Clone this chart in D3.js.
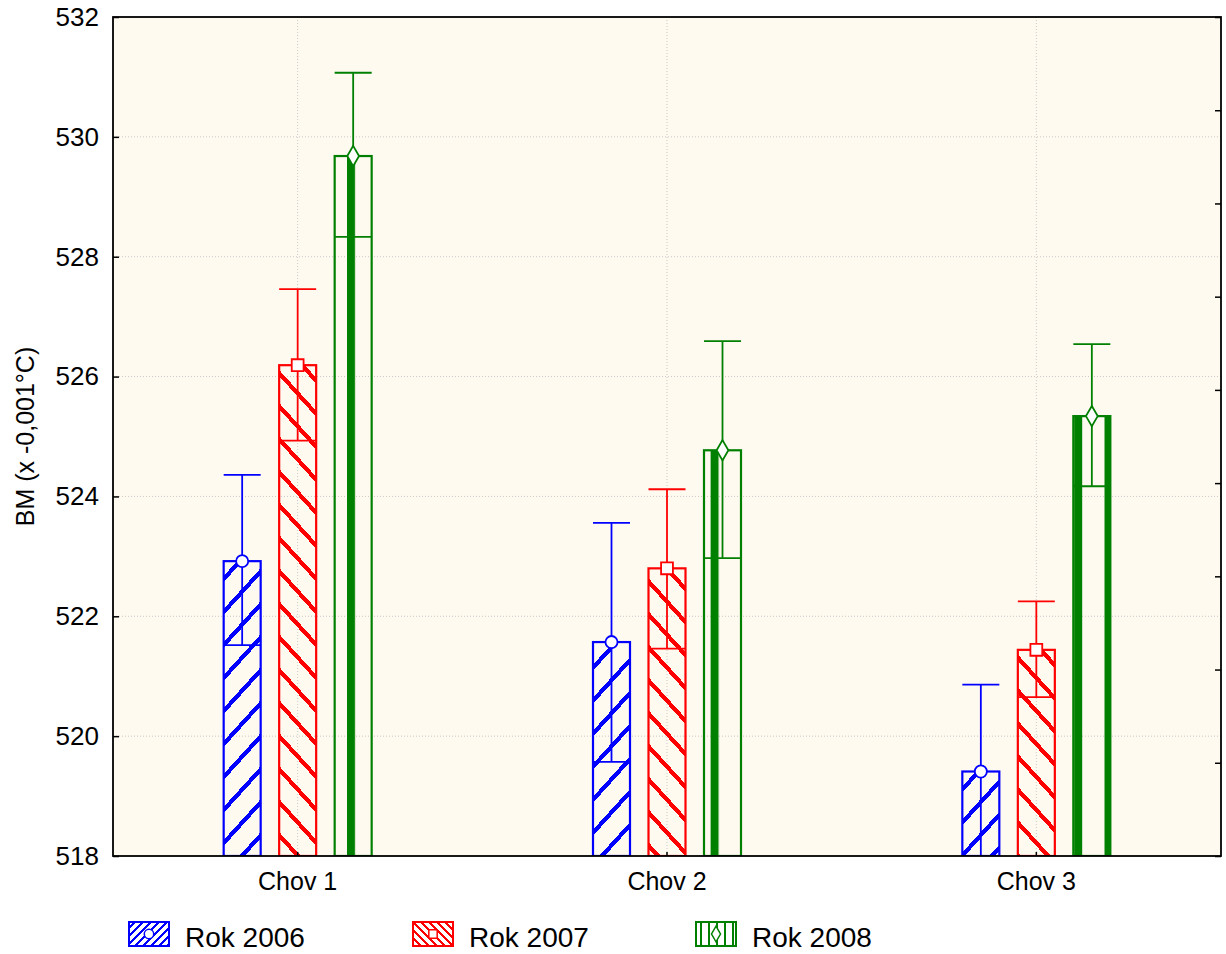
<html>
<head>
<meta charset="utf-8">
<script src="https://d3js.org/d3.v7.min.js"></script>
<style>
  body { margin: 0; background: #fff; }
  text { font-family: "Liberation Sans", Arial, sans-serif; fill: #000; }
</style>
</head>
<body>
<div id="chart"></div>
<script>
// categories and series
var categories = ["Chov 1", "Chov 2", "Chov 3"];
var series = ["Rok 2006", "Rok 2007", "Rok 2008"];

// means and error bar ends
var mean2006 = [522.92, 521.57, 519.41];
var mean2007 = [526.19, 522.80, 521.44];
var mean2008 = [529.68, 524.77, 525.34];
var upper2006 = [524.36, 523.56, 520.86];
var lower2006 = [521.52, 519.57, 517.95];
var upper2007 = [527.46, 524.12, 522.25];
var lower2007 = [524.93, 521.46, 520.65];
var upper2008 = [531.07, 526.59, 526.54];
var lower2008 = [528.33, 522.97, 524.17];

var yTicks = [518, 520, 522, 524, 526, 528, 530, 532];

var colors = ["#0000ff", "#ff0000", "#008000"];

var W = 1226, H = 954;
var margin = { top: 17, right: 5, bottom: 98, left: 113 };
var x0 = margin.left, x1 = W - margin.right, yTop = margin.top, yBot = H - margin.bottom;

var svg = d3.select('#chart').append('svg')
  .attr('width', W)
  .attr('height', H);

var xScale = d3.scaleBand()
  .domain(categories)
  .range([x0, x1])
  .padding(0);

var inner = d3.scaleBand()
  .domain(series)
  .range([-74, 74])
  .paddingInner(1 / 3)
  .paddingOuter(0);

var yScale = d3.scaleLinear()
  .domain([518, 532])
  .range([yBot, yTop]);

// patterns
var defs = svg.append('defs');
function hatch(id, color, w, h, sw, dir) {
  var p = defs.append('pattern')
    .attr('id', id)
    .attr('patternUnits', 'userSpaceOnUse')
    .attr('width', w).attr('height', h);
  var d = dir > 0
    ? 'M' + (-w) + ',' + h + 'L' + w + ',' + (-h) + 'M0,' + (2 * h) + 'L' + (2 * w) + ',0M0,' + h + 'L' + w + ',0'
    : 'M' + (-w) + ',0L' + w + ',' + (2 * h) + 'M0,' + (-h) + 'L' + (2 * w) + ',' + h + 'M0,0L' + w + ',' + h;
  p.append('path').attr('d', d)
    .attr('stroke', color).attr('stroke-width', sw)
    .attr('shape-rendering', 'crispEdges');
}
hatch('hatch0', colors[0], 30, 33, 4.2, 1);
hatch('hatch1', colors[1], 30, 33, 4.2, -1);
hatch('hatchL0', colors[0], 8, 8, 1.6, 1);
hatch('hatchL1', colors[1], 8, 8, 1.6, -1);

var vp = defs.append('pattern')
  .attr('id', 'hatch2')
  .attr('patternUnits', 'userSpaceOnUse')
  .attr('x', 13.7)
  .attr('width', 30.3).attr('height', 10);
vp.append('rect').attr('x', 0).attr('y', 0).attr('width', 8).attr('height', 10).attr('fill', colors[2]);

var vpl = defs.append('pattern')
  .attr('id', 'hatchL2')
  .attr('patternUnits', 'userSpaceOnUse')
  .attr('x', 701)
  .attr('width', 8).attr('height', 8);
vpl.append('rect').attr('x', 0).attr('y', 0).attr('width', 2).attr('height', 8).attr('fill', colors[2]);

defs.append('clipPath').attr('id', 'plotclip')
  .append('rect').attr('x', x0).attr('y', yTop).attr('width', x1 - x0).attr('height', yBot - yTop);

// plot background
svg.append('rect')
  .attr('x', x0).attr('y', yTop)
  .attr('width', x1 - x0).attr('height', yBot - yTop)
  .attr('fill', '#fffaf0');

// grid
var grid = svg.append('g');
grid.selectAll('line.h')
  .data(yTicks.slice(1, -1))
  .enter().append('line')
  .attr('x1', x0).attr('x2', x1)
  .attr('y1', function(d) { return yScale(d); })
  .attr('y2', function(d) { return yScale(d); })
  .attr('stroke', '#c9c9c9').attr('stroke-width', 1)
  .attr('stroke-dasharray', '1,2');
grid.selectAll('line.v')
  .data(categories)
  .enter().append('line')
  .attr('x1', function(d) { return xScale(d) + xScale.bandwidth() / 2; })
  .attr('x2', function(d) { return xScale(d) + xScale.bandwidth() / 2; })
  .attr('y1', yTop).attr('y2', yBot)
  .attr('stroke', '#c9c9c9').attr('stroke-width', 1)
  .attr('stroke-dasharray', '1,2');

var means = [mean2006, mean2007, mean2008];
var uppers = [upper2006, upper2007, upper2008];
var lowers = [lower2006, lower2007, lower2008];

var rows = [];
series.forEach(function(s, si) {
  categories.forEach(function(c, ci) {
    rows.push({ s: s, si: si, c: c, mean: means[si][ci], hi: uppers[si][ci], lo: lowers[si][ci] });
  });
});

var bw = inner.bandwidth();
function bx(d) { return xScale(d.c) + xScale.bandwidth() / 2 + inner(d.s); }
function cx(d) { return bx(d) + bw / 2; }

var plot = svg.append('g').attr('clip-path', 'url(#plotclip)');

// bars
plot.selectAll('rect.bar')
  .data(rows)
  .enter().append('rect')
  .attr('x', bx)
  .attr('y', function(d) { return yScale(d.mean); })
  .attr('width', bw)
  .attr('height', function(d) { return yBot - yScale(d.mean); })
  .attr('fill', function(d) { return 'url(#hatch' + d.si + ')'; })
  .attr('stroke', function(d) { return colors[d.si]; })
  .attr('stroke-width', 2.2);

// error bars
var eb = plot.selectAll('g.eb')
  .data(rows)
  .enter().append('g')
  .attr('stroke', function(d) { return colors[d.si]; })
  .attr('stroke-width', 1.8);
eb.append('line')
  .attr('x1', cx).attr('x2', cx)
  .attr('y1', function(d) { return yScale(d.hi); })
  .attr('y2', function(d) { return yScale(d.lo); });
eb.append('line')
  .attr('x1', bx).attr('x2', function(d) { return bx(d) + bw; })
  .attr('y1', function(d) { return yScale(d.hi); })
  .attr('y2', function(d) { return yScale(d.hi); });
eb.append('line')
  .attr('x1', bx).attr('x2', function(d) { return bx(d) + bw; })
  .attr('y1', function(d) { return yScale(d.lo); })
  .attr('y2', function(d) { return yScale(d.lo); });

// markers
var symbols = [d3.symbolCircle, d3.symbolSquare, d3.symbolDiamond];
var symSize = [115, 140, 120];
plot.selectAll('path.mk')
  .data(rows)
  .enter().append('path')
  .attr('d', function(d) { return d3.symbol().type(symbols[d.si]).size(symSize[d.si])(); })
  .attr('transform', function(d) { return 'translate(' + cx(d) + ',' + yScale(d.mean) + ')'; })
  .attr('fill', '#ffffff')
  .attr('stroke', function(d) { return colors[d.si]; })
  .attr('stroke-width', 1.8);

// axes
var yAxis = d3.axisLeft(yScale)
  .tickValues(yTicks)
  .tickSize(-6)
  .tickPadding(14)
  .tickFormat(d3.format('d'));
var yg = svg.append('g').attr('transform', 'translate(' + x0 + ',0)').call(yAxis);
yg.select('.domain').remove();
yg.selectAll('text').style('font-size', '26px').style('font-family', '"Liberation Sans", Arial, sans-serif');
yg.selectAll('line').attr('stroke', '#000').attr('stroke-width', 1.5);

var xAxis = d3.axisBottom(xScale)
  .tickSize(-4)
  .tickPadding(16);
var xg = svg.append('g').attr('transform', 'translate(0,' + yBot + ')').call(xAxis);
xg.select('.domain').remove();
xg.selectAll('text').style('font-size', '25px').style('font-family', '"Liberation Sans", Arial, sans-serif');
xg.selectAll('line').attr('stroke', '#000').attr('stroke-width', 1.5);

// right side minor axis (no labels)
var rScale = d3.scaleLinear().domain([0, 9]).range([yBot, yTop]);
var rAxis = d3.axisRight(rScale).ticks(9).tickSize(-6).tickFormat('');
var rg = svg.append('g').attr('transform', 'translate(' + x1 + ',0)').call(rAxis);
rg.select('.domain').remove();
rg.selectAll('line').attr('stroke', '#000').attr('stroke-width', 1.5);

// frame
svg.append('rect')
  .attr('x', x0).attr('y', yTop)
  .attr('width', x1 - x0).attr('height', yBot - yTop)
  .attr('fill', 'none')
  .attr('stroke', '#000').attr('stroke-width', 1.8);

// y label
svg.append('text')
  .attr('transform', 'translate(34,' + ((yTop + yBot) / 2) + ') rotate(-90)')
  .attr('text-anchor', 'middle')
  .style('font-size', '25px')
  .text('BM (x -0,001°C)');

// legend
var legX = [128, 412, 695];
var leg = svg.selectAll('g.leg')
  .data(series)
  .enter().append('g')
  .attr('transform', function(d, i) { return 'translate(' + legX[i] + ',921)'; });
leg.append('rect')
  .attr('x', 1).attr('y', 1)
  .attr('width', 40).attr('height', 24)
  .attr('fill', function(d, i) { return 'url(#hatchL' + i + ')'; })
  .attr('stroke', function(d, i) { return colors[i]; })
  .attr('stroke-width', 2);
leg.append('path')
  .attr('d', function(d, i) { return d3.symbol().type(symbols[i]).size(70)(); })
  .attr('transform', 'translate(21,13)')
  .attr('fill', '#ffffff')
  .attr('stroke', function(d, i) { return colors[i]; })
  .attr('stroke-width', 1.5);
leg.append('text')
  .attr('x', 57).attr('y', 16)
  .attr('dy', '0.35em')
  .style('font-size', '28px')
  .text(function(d) { return d; });
</script>
</body>
</html>
